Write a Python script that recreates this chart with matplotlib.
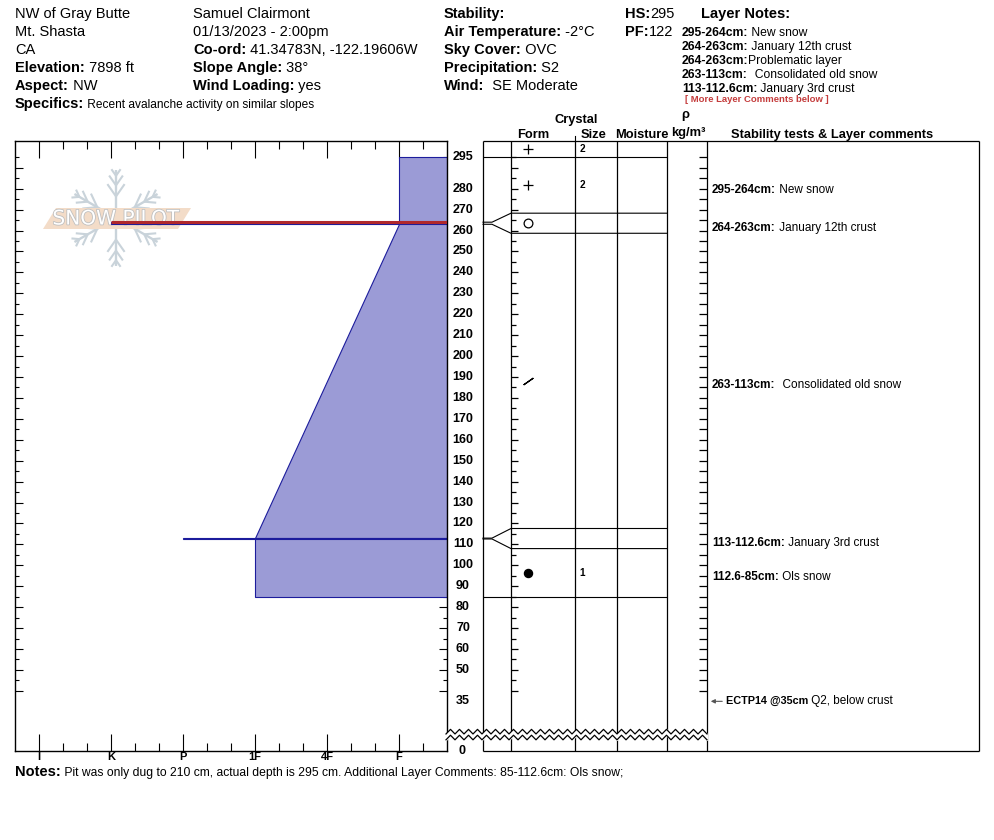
import numpy as np
import matplotlib
matplotlib.use("Agg")
import matplotlib.pyplot as plt
import matplotlib.transforms as mtransforms
import matplotlib.patheffects as pe
from matplotlib.patches import Polygon

plt.rcParams['font.family'] = ['Liberation Sans', 'DejaVu Sans']

# ---- pit header -------------------------------------------------------
col_site = [("", "NW of Gray Butte"), ("", "Mt. Shasta"), ("", "CA"),
            ("Elevation:", " 7898 ft"), ("Aspect:", " NW")]
col_obs = [("", "Samuel Clairmont"), ("", "01/13/2023 - 2:00pm"),
           ("Co-ord:", " 41.34783N, -122.19606W"), ("Slope Angle:", " 38°"),
           ("Wind Loading:", " yes")]
col_wx = [("Stability:", ""), ("Air Temperature:", " -2°C"), ("Sky Cover:", " OVC"),
          ("Precipitation:", " S2"), ("Wind:", "  SE Moderate")]
col_depth = [("HS:", "295"), ("PF:", "122")]
specifics = "Recent avalanche activity on similar slopes"
header_notes = [("295-264cm:", " New snow"), ("264-263cm:", " January 12th crust"),
                ("264-263cm:", "Problematic layer"), ("263-113cm:", "  Consolidated old snow"),
                ("113-112.6cm:", " January 3rd crust")]
notes = " Pit was only dug to 210 cm, actual depth is 295 cm. Additional Layer Comments: 85-112.6cm: Ols snow;"

# ---- layers ------------------------------------------------------------
hardness_names = ['F', '4F', '1F', 'P', 'K', 'I']
layer_top = [295, 264, 263, 113, 112.6]
layer_bottom = [264, 263, 113, 112.6, 85]
hard_top = ['F', 'K', 'F', 'P', '1F']
hard_bottom = ['F', 'K', '1F', 'P', '1F']
grain_form = ['+', 'o', '/', '', '.']
grain_size = ['2', '', '', '', '1']
comment_head = ['295-264cm:', '264-263cm:', '263-113cm:', '113-112.6cm:', '112.6-85cm:']
comment_text = [' New snow', ' January 12th crust', '  Consolidated old snow',
                ' January 3rd crust', ' Ols snow']
problem_layer = 1
surface_form, surface_size = '+', '2'

test_depth = 35
test_head, test_text = 'ECTP14 @35cm', ' Q2, below crust'

depth_labels = [295, 280, 270, 260, 250, 240, 230, 220, 210, 200, 190, 180, 170,
                160, 150, 140, 130, 120, 110, 100, 90, 80, 70, 60, 50, 35]

# ---- figure ------------------------------------------------------------
W, H = 994, 840
fig = plt.figure(figsize=(W / 100, H / 100), dpi=100)
renderer = fig.canvas.get_renderer()
px = mtransforms.Affine2D().scale(1 / W, -1 / H).translate(0, 1) + fig.transFigure


def rect(x0, y0, x1, y1):
    return [x0 / W, 1 - y1 / H, (x1 - x0) / W, (y1 - y0) / H]


def two_part(x, y, head, tail, size, tail_size=None, trans=px, color='black',
             head_color=None, **kw):
    xoff = 0
    if head:
        t = fig.text(x, y, head, transform=trans, fontsize=size, fontweight='bold',
                     color=head_color or color, **kw)
        xoff = t.get_window_extent(renderer).width
    if tail:
        fig.text(x, y, tail, fontsize=tail_size or size, color=color,
                 transform=mtransforms.offset_copy(trans, fig=fig, x=xoff, units='dots'), **kw)


for col_x, col in [(15, col_site), (193, col_obs), (444, col_wx), (625, col_depth)]:
    for i, (h, t) in enumerate(col):
        two_part(col_x, 18.3 + 18 * i, h, t, 10.5)
two_part(15, 108.3, "Specifics:", " " + specifics, 10.5, tail_size=8.6)
two_part(701, 18, "Layer Notes:", "", 10.5)
for i, (h, t) in enumerate(header_notes):
    two_part(682, 36.5 + 13.8 * i, h, t, 8.7)
fig.text(685, 102, "[ More Layer Comments below ]", transform=px, fontsize=6.8,
         fontweight='bold', color='#c43c3c')
two_part(15, 776, "Notes:", notes, 10.5, tail_size=8.7)

# column headings
for txt, x, y in [("Crystal", 576, 122.5), ("Form", 533, 138), ("Size", 594, 138),
                  ("Moisture", 642, 138), ("ρ", 685, 118), ("kg/m³", 688, 136),
                  ("Stability tests & Layer comments", 832, 138)]:
    fig.text(x, y, txt, transform=px, fontsize=9.3, fontweight='bold', ha='center')
fig.add_artist(plt.Line2D([575, 575], [136, 141], transform=px, color='k', lw=0.8))

ytop, ybot = 302.8, 11.5
fill_c, edge_c = '#9b9bd6', '#1c1c9c'

# ---- hardness profile --------------------------------------------------
ax_h = fig.add_axes(rect(15, 141, 447, 750.5))
hard_idx = {n: i for i, n in enumerate(hardness_names)}
soft_edge = -2 / 3

# snowpilot watermark
cx, cy, arm = 116, 218, 48
for ang in [90, 30, -30, -90, 150, 210]:
    a = np.radians(ang)
    dx, dy = np.cos(a), -np.sin(a)
    ax_h.plot([cx + 6 * dx, cx + arm * dx], [cy + 6 * dy, cy + arm * dy], transform=px,
              color='#c9d3da', lw=1.7, zorder=0.5, solid_capstyle='butt')
    for r, blen in [(0.45, 15), (0.68, 12), (0.88, 8)]:
        bx, by = cx + r * arm * dx, cy + r * arm * dy
        for s in (-1, 1):
            b = a + s * np.radians(35)
            ax_h.plot([bx, bx + blen * np.cos(b)], [by, by - blen * np.sin(b)], transform=px,
                      color='#c9d3da', lw=1.5, zorder=0.5, solid_capstyle='butt')
ax_h.add_patch(Polygon([(43, 229), (56, 208), (191, 208), (178, 229)], closed=True,
                       transform=px, fc='#f3dcc8', ec='none', zorder=0.6))
ax_h.text(116, 219, "SNOW PILOT", transform=px, fontsize=14.5, family='DejaVu Sans',
          color='white', ha='center', va='center', zorder=0.7,
          path_effects=[pe.withStroke(linewidth=1.2, foreground='#c0c0c0')])

for top, bot, ht, hb in zip(layer_top, layer_bottom, hard_top, hard_bottom):
    xt, xb = hard_idx[ht], hard_idx[hb]
    ax_h.add_patch(Polygon([(xt, top), (soft_edge, top), (soft_edge, bot), (xb, bot)],
                           closed=True, fc=fill_c, ec=edge_c, lw=0.8, zorder=2))
ax_h.hlines(layer_top[problem_layer], hard_idx[hard_top[problem_layer]], soft_edge,
            color='#b0282c', lw=2.2, zorder=4)

ax_h.set_xlim(5 + 1 / 3, soft_edge)
ax_h.set_ylim(ybot, ytop)
ax_h.set_xticks(range(len(hardness_names)))
ax_h.set_xticklabels(hardness_names, fontweight='bold', fontsize=8)
ax_h.set_xticks([k / 3 for k in range(-1, 16) if k % 3], minor=True)
ax_h.set_yticks(np.arange(40, 295, 10))
ax_h.set_yticks(np.arange(45, 300, 10), minor=True)
ax_h.tick_params(axis='x', which='major', direction='in', length=12, width=0.8,
                 top=True, pad=0.8)
ax_h.tick_params(axis='x', which='minor', direction='in', length=6, width=0.8, top=True)
ax_h.tick_params(axis='y', which='major', direction='in', length=5.8, width=0.8,
                 right=True, labelleft=False)
ax_h.tick_params(axis='y', which='minor', direction='in', length=3.2, width=0.8, right=True)
for s in ax_h.spines.values():
    s.set_linewidth(1.0)

# ---- layer columns -----------------------------------------------------
ax_p = fig.add_axes(rect(440, 141, 979, 750.5))
ax_p.set_xlim(440, 979)
ax_p.set_ylim(ybot, ytop)
ax_p.axis('off')
ax_p.patch.set_visible(False)

x_strip, x_form, x_size, x_moist, x_dens, x_comm, x_right = 483, 511, 575, 617, 667, 707, 979
line_kw = dict(color='k', lw=0.9, clip_on=False)
ax_p.vlines([x_strip, x_form, x_size, x_moist, x_dens, x_comm, x_right], ybot, ytop, **line_kw)
ax_p.hlines([ytop, ybot], x_strip, x_right, **line_kw)

# scale ticks
t10 = np.arange(40, 295, 10)
t5 = np.arange(45, 300, 10)
ax_p.hlines(t10, x_form, x_form + 7, **line_kw)
ax_p.hlines(t5, x_form, x_form + 5, **line_kw)
ax_p.hlines(np.concatenate([t10, t5]), x_comm - 8, x_comm, **line_kw)

for d in depth_labels:
    ax_p.text(463, d, str(d), ha='center', va='center', fontsize=9, fontweight='bold')
ax_p.text(462, ybot, "0", ha='center', va='center', fontsize=9, fontweight='bold')

# thin layers get widened in the grain columns
min_disp = 9.6
disp = {}
for t, b in zip(layer_top, layer_bottom):
    if t - b < min_disp:
        m = (t + b) / 2
        disp[t], disp[b] = m + min_disp / 2, m - min_disp / 2

for v in sorted(set(layer_top + layer_bottom), reverse=True):
    if v in disp:
        ax_p.plot([x_strip, x_strip + 9, x_form, x_dens], [v, v, disp[v], disp[v]],
                  color='k', lw=0.8, clip_on=False)
    else:
        ax_p.hlines(v, x_strip, x_dens, color='k', lw=0.8)

sym_style = {
    '+': dict(marker='+', ms=6.5, mew=0.9, color='k'),
    'o': dict(marker='o', ms=6.3, mfc='white', mec='k', mew=0.9),
    '/': dict(marker=(2, 2, -55), ms=8.5, mew=0.9, color='k'),
    '.': dict(marker='o', ms=5.8, color='k'),
}
ax_p.plot(528, (ytop + layer_top[0]) / 2, ls='none', **sym_style[surface_form])
ax_p.text(582, (ytop + layer_top[0]) / 2, surface_size, ha='center', va='center',
          fontsize=7.2, fontweight='bold')

down = mtransforms.offset_copy(ax_p.transData, fig=fig, y=-4.5, units='dots')
for i, (t, b) in enumerate(zip(layer_top, layer_bottom)):
    mid = (disp.get(t, t) + disp.get(b, b)) / 2
    if grain_form[i]:
        ax_p.plot(528, mid, ls='none', **sym_style[grain_form[i]])
    if grain_size[i]:
        ax_p.text(582, mid, grain_size[i], ha='center', va='center', fontsize=7.2,
                  fontweight='bold')
    two_part(712, mid, comment_head[i], comment_text[i], 8.5, trans=down, va='center')

# stability test
ax_p.annotate('', xy=(x_comm + 1, test_depth), xytext=(x_comm + 18, test_depth),
              arrowprops=dict(arrowstyle='-|>', color='#555555', lw=0.8, mutation_scale=6))
two_part(726, test_depth, test_head, test_text, 7.8, tail_size=8.5,
         trans=ax_p.transData, va='center')

# break in the scale
zx = np.linspace(446, x_comm, 59)
zup = np.where(np.arange(len(zx)) % 2 == 0, 19.4, 21.6)
zlo = zup - 2.8
ax_p.fill_between(zx, zlo, zup, color='white', zorder=5, clip_on=False)
ax_p.plot(zx, zup, color='k', lw=0.9, zorder=6, clip_on=False)
ax_p.plot(zx, zlo, color='k', lw=0.9, zorder=6, clip_on=False)

fig.savefig("out.png", dpi=100)
